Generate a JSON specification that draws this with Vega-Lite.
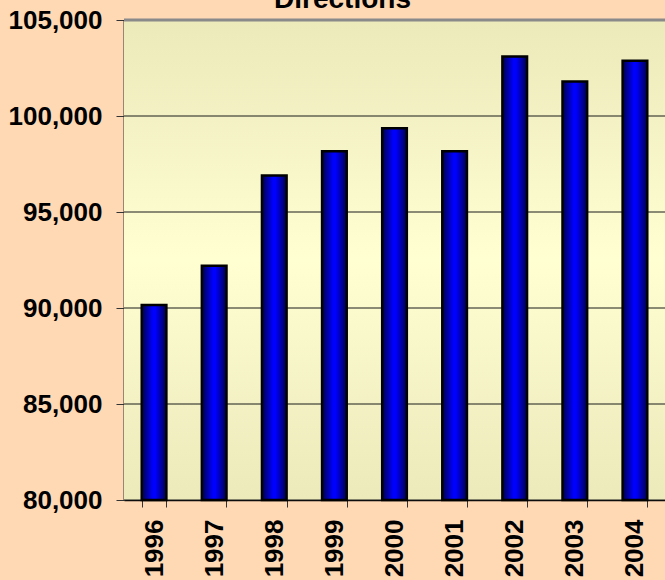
{
  "$schema": "https://vega.github.io/schema/vega-lite/v6.json",
  "width": 541,
  "height": 480,
  "autosize": {"type": "none"},
  "padding": {"left": 124, "top": 20, "right": 0, "bottom": 80},
  "background": "#FFD8B4",
  "config": {"view": {"stroke": null}, "font": "Liberation Sans"},
  "title": {
    "text": "Directions",
    "font": "Liberation Sans",
    "fontSize": 28,
    "fontWeight": "bold",
    "color": "#000000",
    "anchor": "middle",
    "dx": -52,
    "dy": 30,
    "offset": 1,
    "baseline": "alphabetic"
  },
  "layer": [
    {
      "data": {"values": [{}]},
      "mark": {
        "type": "rect",
        "fill": {
          "gradient": "linear",
          "x1": 0, "y1": 0, "x2": 0, "y2": 1,
          "stops": [
            {"offset": 0, "color": "#ECE9BA"},
            {"offset": 0.5, "color": "#FFFFD2"},
            {"offset": 1, "color": "#ECE9BA"}
          ]
        }
      },
      "encoding": {}
    },
    {
      "data": {"values": [
        {"value": 80000}, {"value": 85000}, {"value": 90000}, {"value": 95000}, {"value": 100000}, {"value": 105000}
      ]},
      "mark": {"type": "rule"},
      "encoding": {
        "y": {
          "field": "value",
          "type": "quantitative",
          "scale": {"domain": [80000, 105000], "zero": false, "nice": false},
          "axis": {
            "title": null,
            "values": [80000, 85000, 90000, 95000, 100000, 105000],
            "format": ",.0f",
            "labelFont": "Liberation Sans",
            "labelFontSize": 26,
            "labelFontWeight": "bold",
            "labelColor": "#000000",
            "tickSize": 8,
            "tickColor": "#333333",
            "domainColor": "#333333",
            "domainWidth": 2,
            "labelPadding": 14,
            "grid": false
          }
        },
        "color": {"condition": {"test": "datum.value == 105000", "value": "#8A8A8A"}, "value": "#1A1A1A"},
        "strokeWidth": {"condition": {"test": "datum.value == 105000", "value": 3}, "value": 1}
      }
    },
    {
      "data": {"values": [
        {"year": "1996", "value": 90150},
        {"year": "1997", "value": 92200},
        {"year": "1998", "value": 96900},
        {"year": "1999", "value": 98170},
        {"year": "2000", "value": 99365},
        {"year": "2001", "value": 98170},
        {"year": "2002", "value": 103100},
        {"year": "2003", "value": 101800},
        {"year": "2004", "value": 102880}
      ]},
      "mark": {
        "type": "bar",
        "stroke": "#000000",
        "strokeWidth": 2.5,
        "fill": {
          "gradient": "linear",
          "x1": 0, "y1": 0, "x2": 1, "y2": 0,
          "stops": [
            {"offset": 0, "color": "#00004A"},
            {"offset": 0.45, "color": "#0000FF"},
            {"offset": 0.55, "color": "#0000FF"},
            {"offset": 1, "color": "#00004A"}
          ]
        }
      },
      "encoding": {
        "x": {
          "field": "year",
          "type": "ordinal",
          "scale": {"paddingInner": 0.59, "paddingOuter": 0.295},
          "axis": {
            "title": null,
            "labelAngle": -90,
            "labelFont": "Liberation Sans",
            "labelFontSize": 26,
            "labelFontWeight": "bold",
            "labelColor": "#000000",
            "tickBand": "extent",
            "tickSize": 7,
            "tickColor": "#333333",
            "domainColor": "#000000",
            "domainWidth": 1.5,
            "labelPadding": 12,
            "grid": false
          }
        },
        "y": {
          "field": "value",
          "type": "quantitative",
          "scale": {"domain": [80000, 105000], "zero": false, "nice": false},
          "axis": {
            "title": null,
            "values": [80000, 85000, 90000, 95000, 100000, 105000],
            "format": ",.0f",
            "labelFont": "Liberation Sans",
            "labelFontSize": 26,
            "labelFontWeight": "bold",
            "labelColor": "#000000",
            "tickSize": 8,
            "tickColor": "#333333",
            "domainColor": "#333333",
            "domainWidth": 2,
            "labelPadding": 14,
            "grid": false
          }
        },
        "y2": {"datum": 80000}
      }
    }
  ]
}
